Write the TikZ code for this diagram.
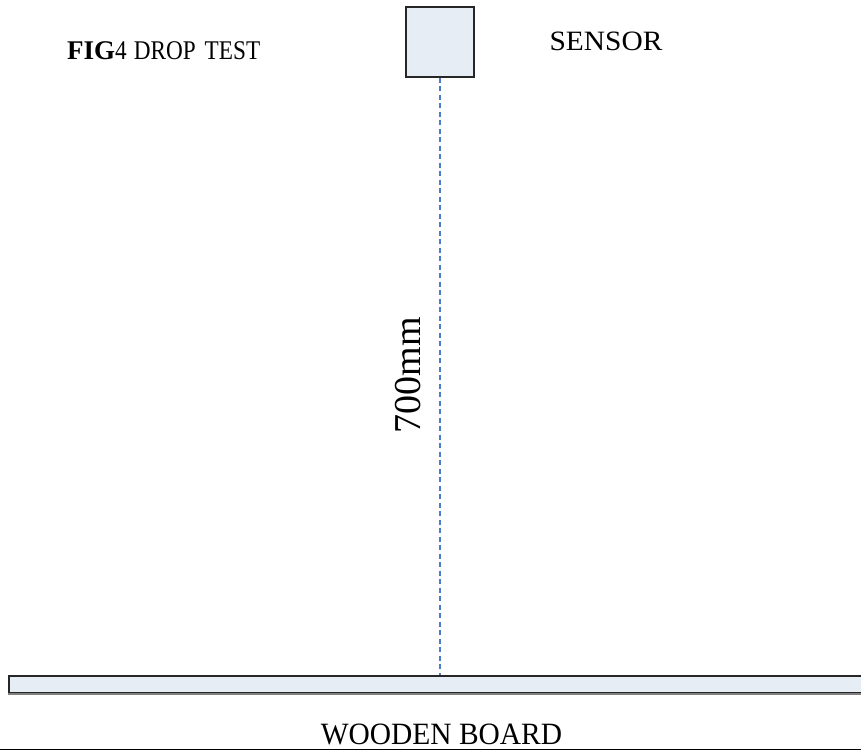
\documentclass[tikz,border=0pt]{standalone}
\usepackage{fontspec}
\setmainfont{Liberation Serif}
\newfontfamily\narrowserif[FakeStretch=0.86]{Liberation Serif}
\definecolor{boxfill}{HTML}{E6EDF5}
\definecolor{boxline}{HTML}{262626}
\definecolor{dashblue}{HTML}{4A7BCC}
\begin{document}
\begin{tikzpicture}[x=1pt,y=1pt,
  panel/.style={draw=boxline,fill=boxfill,line width=1.2pt,inner sep=0pt},
  label/.style={inner sep=0pt,anchor=base},
  guide/.style={draw=dashblue,line width=2pt,dash pattern=on 5pt off 3.5pt}]
\useasboundingbox (0,0) rectangle (861,-751);
\node[panel,minimum width=68pt,minimum height=70pt] (sensor) at (440,-42) {};
\node[panel,minimum width=855pt,minimum height=17pt] (board) at (436.5,-684.5) {};
\draw[line width=2pt,draw=gray] (board.south west) -- (board.south east);
\coordinate (hit) at (sensor.south |- board.north);
\draw[guide] (sensor.south) -- (hit);
\node[label,font=\fontsize{28}{32}\selectfont,xscale=1.05] (sensortxt) at (606,-51) {SENSOR};
\node[label,font=\fontsize{31}{36}\selectfont,xscale=0.95] (boardtxt) at (441.5,-744) {WOODEN BOARD};
\node[label,font=\fontsize{38}{44}\selectfont,rotate=90] (dist) at (420,-375) {700mm};
\node[label,anchor=base west,font=\fontsize{27}{32}\selectfont] (title) at (67,-60) {\textbf{FIG}{\narrowserif 4\hspace{7pt}DROP\hspace{9pt}TEST}};
\coordinate (bl) at (0,-749.5);
\coordinate (br) at (861,-749.5);
\draw[line width=1.5pt] (bl) -- (br);
\end{tikzpicture}
\end{document}
